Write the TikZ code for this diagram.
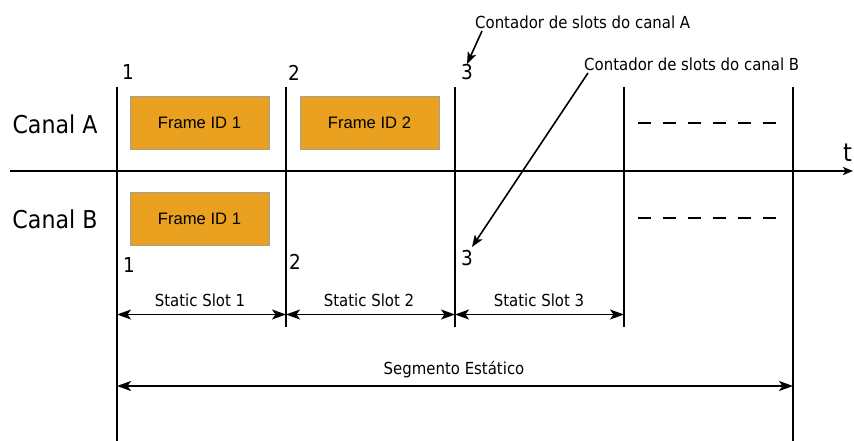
\documentclass[tikz,border=0pt]{standalone}
\usepackage{fontspec}
\setmainfont{DejaVu Sans}
\newfontfamily\lblfont[FakeStretch=0.9]{DejaVu Sans}
\newfontfamily\framefont{Liberation Sans}
\usetikzlibrary{arrows.meta}
\definecolor{frameorange}{HTML}{E9A11F}
\definecolor{frameedge}{HTML}{A0A0A0}
\tikzset{
  boundary/.style={line width=1.8pt},
  axisline/.style={line width=1.8pt,-{Stealth[length=10pt,width=8pt,inset=2.5pt]}},
  span/.style={line width=1.8pt,{Stealth[length=14pt,width=10pt,inset=3.5pt]}-{Stealth[length=14pt,width=10pt,inset=3.5pt]}},
  annot/.style={line width=1.6pt,-{Stealth[length=12pt,width=9pt,inset=3pt]}},
  pending/.style={line width=2pt,dash pattern=on 13pt off 12pt},
  framebox/.style={draw=frameedge,line width=0.9pt,fill=frameorange,minimum width=139pt,minimum height=53pt,inner sep=0pt,font=\framefont\fontsize{16.6}{18}\selectfont},
  chan/.style={inner sep=0pt,font=\lblfont\fontsize{24.6}{28}\selectfont},
  slotno/.style={inner sep=0pt,font=\lblfont\fontsize{20.5}{24}\selectfont},
  small/.style={inner sep=0pt,font=\lblfont\fontsize{16.6}{19}\selectfont},
}
\begin{document}
\begin{tikzpicture}[x=1pt,y=-1pt]
\useasboundingbox (0,0) rectangle (854,441);

% slot boundaries
\coordinate (b1t) at (117,87);  \coordinate (b1b) at (117,441);
\coordinate (b2t) at (286,87);  \coordinate (b2b) at (286,327);
\coordinate (b3t) at (455,87);  \coordinate (b3b) at (455,327);
\coordinate (b4t) at (624,87);  \coordinate (b4b) at (624,327);
\coordinate (b5t) at (793,87);  \coordinate (b5b) at (793,441);
\foreach \i in {1,...,5} \draw[boundary] (b\i t) -- (b\i b);

% time axis
\coordinate (tstart) at (10,171);
\coordinate (tend) at (853,171);
\draw[axisline] (tstart) -- (tend);
\node[chan,anchor=west,font=\lblfont\fontsize{25}{28}\selectfont] (tlabel) at (843,153) {t};

% channel names
\node[chan] (canA) at (55,124) {Canal A};
\node[chan] (canB) at (55,219) {Canal B};

% frames
\node[framebox] (fA1) at (199.5,122.5) {Frame ID 1};
\node[framebox] (fA2) at (369.5,122.5) {Frame ID 2};
\node[framebox] (fB1) at (199.5,218.5) {Frame ID 1};

% remaining slots
\coordinate (dA1) at (638,123); \coordinate (dA2) at (779,123);
\coordinate (dB1) at (638,218); \coordinate (dB2) at (779,218);
\draw[pending] (dA1) -- (dA2);
\draw[pending] (dB1) -- (dB2);

% slot counters
\node[slotno] (n1a) at (128,72.5) {1};
\node[slotno] (n2a) at (294,72.5) {2};
\node[slotno] (n3a) at (467,72) {3};
\node[slotno] (n1b) at (129,265.5) {1};
\node[slotno] (n2b) at (295,262) {2};
\node[slotno] (n3b) at (467,258) {3};

% counter annotations
\node[small,anchor=west] (ctrA) at (475,22) {Contador de slots do canal A};
\node[small,anchor=west] (ctrB) at (584,64) {Contador de slots do canal B};
\coordinate (ctrAfoot) at (482,31);
\coordinate (ctrBfoot) at (588,73);
\coordinate (ctrBtip) at (472,247);
\draw[annot] (ctrAfoot) -- (n3a.north);
\draw[annot] (ctrBfoot) -- (ctrBtip);

% static slot spans
\coordinate (s1) at (117,314.5);
\coordinate (s2) at (286,314.5);
\coordinate (s3) at (455,314.5);
\coordinate (s4) at (624,314.5);
\draw[span] (s1) -- (s2);
\draw[span] (s2) -- (s3);
\draw[span] (s3) -- (s4);
\node[small] (sl1) at (200,300) {Static Slot 1};
\node[small] (sl2) at (369,300) {Static Slot 2};
\node[small] (sl3) at (539,300) {Static Slot 3};

% static segment span
\coordinate (g1) at (117,386);
\coordinate (g2) at (793,386);
\draw[span] (g1) -- (g2);
\node[small] (seg) at (454,370) {Segmento Estático};
\end{tikzpicture}
\end{document}
